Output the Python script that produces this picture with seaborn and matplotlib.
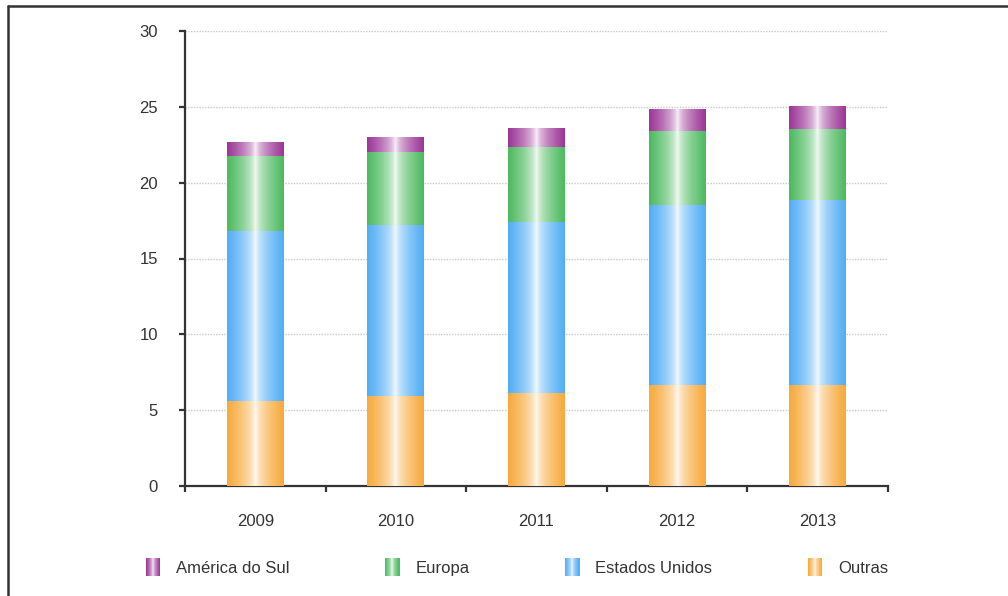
import numpy as np
import pandas as pd
import seaborn as sns
import matplotlib
matplotlib.use('Agg')
import matplotlib.pyplot as plt
from matplotlib.lines import Line2D
from matplotlib.patches import Rectangle
from matplotlib.legend_handler import HandlerBase
from matplotlib.colors import to_rgb

# ---- data ----
years = ['2009', '2010', '2011', '2012', '2013']
outras = [5.6, 5.9, 6.1, 6.6, 6.6]
estados_unidos = [11.2, 11.25, 11.3, 11.9, 12.2]
europa = [4.95, 4.85, 4.95, 4.9, 4.7]
america_do_sul = [0.93, 0.95, 1.25, 1.4, 1.5]
series_names = ['Outras', 'Estados Unidos', 'Europa', 'América do Sul']
series_values = [outras, estados_unidos, europa, america_do_sul]
series_colors = ['#f7a93b', '#50adf5', '#4cb95f', '#9b3596']
y_ticks = [0, 5, 10, 15, 20, 25, 30]

sns.set_style('white')
plt.rcParams['font.family'] = ['Liberation Sans', 'DejaVu Sans']
TEXT = '#333333'
FS = 12


def gradient_colors(base, n):
    base = np.array(to_rgb(base))
    t = (np.arange(n) + 0.5) / n
    d = np.abs(t - 0.5) * 2
    w = d ** 0.55
    return np.clip(1 - w[:, None] + base[None, :] * w[:, None], 0, 1)


class GradHandler(HandlerBase):
    def create_artists(self, legend, orig, xdescent, ydescent, width, height, fontsize, trans):
        n = 14
        cols = gradient_colors(orig.get_facecolor(), n)
        arts = []
        for k in range(n):
            r = Rectangle((-xdescent + k * width / n, -ydescent), width / n * 1.08, height,
                          facecolor=cols[k], edgecolor='none', linewidth=0, transform=trans)
            arts.append(r)
        return arts


fig = plt.figure(figsize=(10.08, 5.96), dpi=100)
ax = fig.add_axes([185 / 1008, 1 - 486 / 596, (888 - 185) / 1008, (486 - 31) / 596])

# cumulative stacks, drawn largest first
cum = np.cumsum(np.array(series_values), axis=0)
order = list(range(len(series_names)))[::-1]
for i in order:
    df = pd.DataFrame({'ano': years, 'valor': cum[i]})
    sns.barplot(data=df, x='ano', y='valor', color=series_colors[i], saturation=1,
                width=0.405, linewidth=0, edgecolor='none', ax=ax)

# gradient overlay per bar
patches = list(ax.patches)
z = 3
idx = 0
for i in order:
    grad = gradient_colors(series_colors[i], 64)[None, :, :]
    for j in range(len(years)):
        p = patches[idx]
        idx += 1
        x0, y0 = p.get_x(), p.get_y()
        w, h = p.get_width(), p.get_height()
        ax.imshow(grad, extent=[x0, x0 + w, y0, y0 + h], aspect='auto',
                  interpolation='bilinear', zorder=z, origin='lower')
        z += 0.01

ax.set_xlim(-0.5, 4.5)
ax.set_ylim(0, 30)
ax.set_xlabel('')
ax.set_ylabel('')

ax.set_yticks(y_ticks)
ax.set_yticklabels([str(v) for v in y_ticks])
ax.set_xticks(range(len(years)))
ax.set_xticklabels(years)
ax.set_xticks(np.arange(-0.5, len(years), 1), minor=True)
ax.tick_params(axis='x', which='both', bottom=True)
ax.tick_params(axis='y', which='major', left=True)
ax.tick_params(axis='x', which='major', length=0, pad=20, labelsize=FS, labelcolor=TEXT)
ax.tick_params(axis='x', which='minor', length=4.5, width=1.6, color=TEXT, direction='out')
ax.tick_params(axis='y', which='major', length=4.5, width=1.6, color=TEXT, direction='out',
               pad=15, labelsize=FS, labelcolor=TEXT)

ax.yaxis.grid(True, linestyle=(0, (1, 1)), color='#c8c8c8', linewidth=1)
ax.xaxis.grid(False)
ax.set_axisbelow(True)

for s in ['top', 'right']:
    ax.spines[s].set_visible(False)
for s in ['left', 'bottom']:
    ax.spines[s].set_color(TEXT)
    ax.spines[s].set_linewidth(1.6)

# legend
leg_order = ['América do Sul', 'Europa', 'Estados Unidos', 'Outras']
handles = [Rectangle((0, 0), 1, 1, facecolor=series_colors[series_names.index(n)]) for n in leg_order]
fig.legend(handles=handles, labels=leg_order, handler_map={Rectangle: GradHandler()},
           ncol=4, loc='center left', bbox_to_anchor=(146 / 1008, 1 - 567 / 596),
           frameon=False, borderpad=0, borderaxespad=0, handlelength=0.85, handleheight=1.35,
           handletextpad=0.95, columnspacing=5.75, fontsize=FS, labelcolor=TEXT)

# outer frame lines
fig.add_artist(Line2D([8 / 1008, 1.0], [1 - 5.5 / 596, 1 - 5.5 / 596], transform=fig.transFigure,
                      color=TEXT, linewidth=1.8))
fig.add_artist(Line2D([8 / 1008, 8 / 1008], [0, 1 - 5.5 / 596], transform=fig.transFigure,
                      color=TEXT, linewidth=1.8))

fig.savefig('out.png', dpi=100, facecolor='white')
